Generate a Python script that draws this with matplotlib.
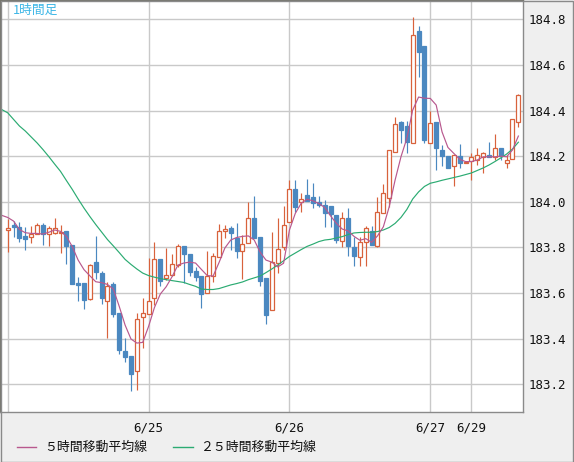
import matplotlib
matplotlib.use('Agg')
import matplotlib.pyplot as plt
from matplotlib.lines import Line2D
from matplotlib.patches import Rectangle

plt.rcParams['font.family'] = ['Noto Sans CJK JP', 'DejaVu Sans']

# ---------------- data (hourly candles, USD/JPY-like) ----------------
opens = [183.875, 183.898, 183.888, 183.850, 183.844, 183.860, 183.898, 183.857, 183.861, 183.864,
         183.872, 183.810, 183.645, 183.643, 183.573, 183.736, 183.687, 183.563, 183.639, 183.511,
         183.345, 183.325, 183.256, 183.494, 183.506, 183.576, 183.747, 183.667, 183.679, 183.722,
         183.806, 183.771, 183.696, 183.674, 183.598, 183.673, 183.756, 183.873, 183.885, 183.841,
         183.782, 183.819, 183.927, 183.845, 183.667, 183.524, 183.733, 183.800, 183.912, 184.056,
         183.997, 184.029, 184.019, 183.999, 183.986, 183.981, 183.942, 183.826, 183.930, 183.803,
         183.756, 183.825, 183.872, 183.807, 183.952, 184.018, 184.217, 184.350, 184.332, 184.259,
         184.749, 184.683, 184.259, 184.350, 184.227, 184.200, 184.158, 184.200, 184.171, 184.180,
         184.183, 184.197, 184.205, 184.197, 184.236, 184.168, 184.186, 184.351]
highs = [183.926, 183.915, 183.911, 183.888, 183.893, 183.905, 183.905, 183.893, 183.927, 183.898,
         183.872, 183.810, 183.670, 183.643, 183.727, 183.850, 183.696, 183.650, 183.648, 183.511,
         183.401, 183.325, 183.511, 183.576, 183.752, 183.823, 183.747, 183.797, 183.771, 183.814,
         183.806, 183.771, 183.715, 183.674, 183.784, 183.775, 183.902, 183.898, 183.893, 183.908,
         183.854, 183.999, 184.025, 183.845, 183.667, 183.868, 183.927, 183.981, 184.095, 184.095,
         184.037, 184.100, 184.081, 184.025, 184.008, 183.981, 183.942, 183.956, 183.974, 183.847,
         183.847, 183.895, 183.893, 184.022, 184.078, 184.227, 184.372, 184.356, 184.354, 184.809,
         184.772, 184.683, 184.398, 184.350, 184.249, 184.200, 184.204, 184.253, 184.174, 184.212,
         184.234, 184.219, 184.261, 184.297, 184.236, 184.204, 184.361, 184.471]
lows = [183.781, 183.845, 183.825, 183.789, 183.820, 183.857, 183.811, 183.807, 183.857, 183.773,
        183.725, 183.639, 183.563, 183.531, 183.571, 183.661, 183.553, 183.401, 183.496, 183.333,
        183.298, 183.168, 183.173, 183.357, 183.506, 183.547, 183.630, 183.657, 183.674, 183.715,
        183.642, 183.674, 183.652, 183.533, 183.598, 183.649, 183.756, 183.839, 183.788, 183.754,
        183.662, 183.819, 183.842, 183.630, 183.465, 183.524, 183.686, 183.788, 183.912, 183.956,
        183.956, 184.003, 183.971, 183.978, 183.890, 183.890, 183.818, 183.803, 183.763, 183.719,
        183.719, 183.719, 183.810, 183.800, 183.949, 183.976, 184.217, 184.256, 184.212, 184.259,
        184.548, 184.259, 184.259, 184.139, 184.158, 184.149, 184.070, 184.147, 184.170, 184.095,
        184.161, 184.127, 184.195, 184.183, 184.183, 184.147, 184.186, 184.329]
closes = [183.883, 183.890, 183.842, 183.838, 183.860, 183.897, 183.857, 183.883, 183.883, 183.866,
          183.807, 183.640, 183.636, 183.570, 183.722, 183.693, 183.579, 183.632, 183.506, 183.348,
          183.319, 183.243, 183.484, 183.511, 183.563, 183.747, 183.652, 183.677, 183.725, 183.804,
          183.772, 183.693, 183.671, 183.597, 183.674, 183.762, 183.870, 183.879, 183.861, 183.785,
          183.814, 183.927, 183.842, 183.654, 183.504, 183.734, 183.791, 183.897, 184.056, 183.978,
          184.011, 184.003, 183.993, 183.984, 183.952, 183.947, 183.832, 183.927, 183.807, 183.763,
          183.822, 183.883, 183.810, 183.954, 184.037, 184.225, 184.340, 184.316, 184.263, 184.731,
          184.658, 184.271, 184.344, 184.237, 184.200, 184.149, 184.204, 184.168, 184.172, 184.196,
          184.204, 184.212, 184.195, 184.234, 184.202, 184.182, 184.361, 184.470]

# moving averages as drawn (first value belongs to the hour before the first candle)
ma5 = [183.940, 183.931, 183.915, 183.878, 183.864, 183.861, 183.861, 183.858, 183.866, 183.876,
       183.870, 183.848, 183.803, 183.744, 183.702, 183.675, 183.649, 183.645, 183.637, 183.617,
       183.541, 183.459, 183.398, 183.380, 183.383, 183.453, 183.536, 183.595, 183.627, 183.671,
       183.722, 183.731, 183.735, 183.731, 183.703, 183.676, 183.674, 183.733, 183.797, 183.832,
       183.843, 183.848, 183.850, 183.832, 183.779, 183.744, 183.735, 183.714, 183.730, 183.876,
       183.949, 183.993, 184.011, 184.004, 183.992, 183.975, 183.938, 183.905, 183.880, 183.872,
       183.848, 183.831, 183.838, 183.822, 183.850, 183.890, 183.978, 184.095, 184.197, 184.278,
       184.402, 184.459, 184.454, 184.453, 184.424, 184.306, 184.238, 184.212, 184.186, 184.176,
       184.176, 184.183, 184.197, 184.197, 184.197, 184.200, 184.197, 184.227, 184.288]
ma25 = [184.404, 184.390, 184.361, 184.332, 184.310, 184.284, 184.258, 184.229, 184.198, 184.165,
        184.133, 184.093, 184.054, 184.012, 183.972, 183.935, 183.900, 183.867, 183.834, 183.806,
        183.777, 183.747, 183.725, 183.705, 183.687, 183.676, 183.669, 183.663, 183.658, 183.654,
        183.650, 183.646, 183.637, 183.629, 183.617, 183.615, 183.615, 183.619, 183.627, 183.635,
        183.641, 183.648, 183.658, 183.666, 183.674, 183.689, 183.705, 183.722, 183.741, 183.760,
        183.775, 183.790, 183.804, 183.814, 183.825, 183.832, 183.835, 183.841, 183.847, 183.856,
        183.863, 183.865, 183.866, 183.866, 183.869, 183.876, 183.887, 183.905, 183.931, 183.966,
        184.012, 184.043, 184.067, 184.081, 184.087, 184.094, 184.100, 184.106, 184.112, 184.119,
        184.126, 184.137, 184.148, 184.161, 184.176, 184.192, 184.209, 184.231, 184.261]

day_starts = [0, 24, 48, 72, 79]
day_labels = ['', '6/25', '6/26', '6/27', '6/29']
y_ticks = [183.2, 183.4, 183.6, 183.8, 184.0, 184.2, 184.4, 184.6, 184.8]
title_text = '1時間足'
legend_labels = ['５時間移動平均線', '２５時間移動平均線']

# ---------------- styling ----------------
UP = '#d8623c'
DOWN = '#4b88c0'
C_MA5 = '#b8588e'
C_MA25 = '#2bab72'
GRID = '#c9c9c9'
BG = '#efefef'

W, H = 574, 462
fig = plt.figure(figsize=(W / 100, H / 100), dpi=100, facecolor=BG)
ax = fig.add_axes([0, 50 / H, 523 / W, 412 / H])
ax.set_facecolor('white')

n = len(closes)
xs = list(range(n))

# wicks
wick_cols = [UP if c >= o else DOWN for o, c in zip(opens, closes)]
ax.vlines(xs, lows, highs, colors=wick_cols, linewidth=0.85, zorder=3)

# bodies
bottoms = [min(o, c) for o, c in zip(opens, closes)]
heights = [max(abs(c - o), 0.002) for o, c in zip(opens, closes)]
faces = ['white' if c >= o else DOWN for o, c in zip(opens, closes)]
ax.bar(xs, heights, bottom=bottoms, width=0.68, color=faces, edgecolor=wick_cols,
       linewidth=0.9, zorder=4)

# moving averages
ma_x = list(range(-1, n))
ax.plot(ma_x, ma25, color=C_MA25, linewidth=0.85, zorder=5)
ax.plot(ma_x, ma5, color=C_MA5, linewidth=0.85, zorder=5)

# axes & grid
ax.set_xlim(-1.312, 87.79)
ax.set_ylim(183.0777, 184.8847)
for d in day_starts:
    ax.axvline(d, color=GRID, linewidth=1.0, zorder=1)
for yv in y_ticks:
    ax.axhline(yv, color=GRID, linewidth=1.0, zorder=1)

ax.set_xticks(day_starts)
ax.set_xticklabels(day_labels, family='DejaVu Sans Mono', fontsize=9, color='#111111')
ax.set_yticks(y_ticks)
ax.set_yticklabels([f'{v:.1f}' for v in y_ticks], family='DejaVu Sans Mono', fontsize=9,
                   color='#111111')
ax.yaxis.tick_right()
ax.tick_params(axis='both', length=0)
ax.tick_params(axis='x', pad=7)
ax.tick_params(axis='y', pad=4)

for s in ['right', 'bottom']:
    ax.spines[s].set_color('#8a8a8a')
    ax.spines[s].set_linewidth(1.0)
for s in ['left', 'top']:
    ax.spines[s].set_color('#77776f')
    ax.spines[s].set_linewidth(1.6)

ax.text(13 / 523, 1 - 10.5 / 412, title_text, transform=ax.transAxes, ha='left', va='center',
        color='#3cb6e6', fontsize=9.2, zorder=6)

# legend at bottom
ly = 1 - 447 / H
fig.add_artist(Line2D([17 / W, 36 / W], [ly, ly], color=C_MA5, linewidth=1.0))
fig.text(44 / W, ly, legend_labels[0], ha='left', va='center', fontsize=9.3, color='#111111')
fig.add_artist(Line2D([173 / W, 193 / W], [ly, ly], color=C_MA25, linewidth=1.0))
fig.text(200 / W, ly, legend_labels[1], ha='left', va='center', fontsize=9.3, color='#111111')

# outer frame
fig.add_artist(Rectangle((0.5 / W, 0.5 / H), 1 - 1.5 / W, 1 - 1.5 / H, transform=fig.transFigure,
                         fill=False, edgecolor='#8a8a8a', linewidth=1.0))

fig.savefig('out.png', dpi=100, facecolor=BG)
